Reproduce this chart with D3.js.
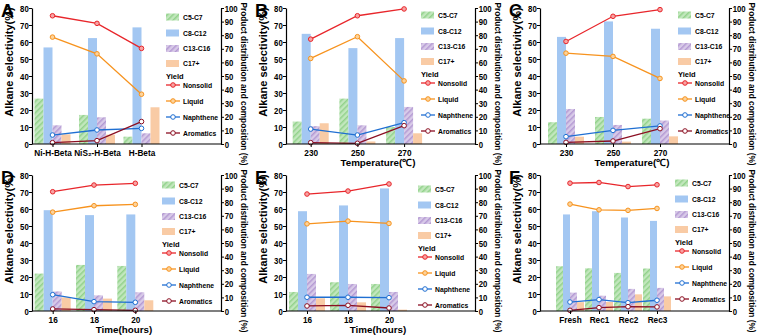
<!DOCTYPE html>
<html lang="en">
<head>
<meta charset="UTF-8">
<title>Alkane selectivity and product distribution</title>
<script src="https://d3js.org/d3.v7.min.js"></script>
<style>
  body { margin: 0; background: #fff; }
  text { font-family: "Liberation Sans", Arial, sans-serif; font-weight: bold; }
</style>
</head>
<body>
<div id="chart"></div>
<script>
// categories per panel (A..F)
const panelLetters = ["A", "B", "C", "D", "E", "F"];
const categories = [
  ["Ni-H-Beta", "NiS₂-H-Beta", "H-Beta"],
  ["230", "250", "270"],
  ["230", "250", "270"],
  ["16", "18", "20"],
  ["16", "18", "20"],
  ["Fresh", "Rec1", "Rec2", "Rec3"]
];
const xTitles = ["", "Temperature(℃)", "Temperature(℃)", "Time(hours)", "Time(hours)", ""];

// alkane selectivity (%) - bars, left axis
const c5c7   = [[26.7, 17.1, 4.3], [13.2, 26.7, 10.0], [12.8, 15.9, 14.9], [22.0, 27.1, 26.5], [11.2, 16.9, 15.9], [26.3, 25.1, 22.4, 25.0]];
const c8c12  = [[56.8, 62.3, 68.6], [64.8, 56.4, 62.3], [63.0, 72.1, 67.8], [59.3, 56.4, 56.8], [58.7, 62.1, 72.1], [56.8, 58.7, 55.0, 53.0]];
const c13c16 = [[11.0, 15.7, 6.3], [10.5, 11.0, 21.8], [20.6, 11.2, 13.8], [11.5, 9.2, 11.0], [21.8, 15.9, 11.2], [10.8, 9.0, 13.0, 13.6]];
const c17    = [[5.7, 5.5, 21.6], [12.2, 1.5, 6.3], [4.3, 1.4, 4.5], [8.0, 7.3, 6.3], [7.5, 5.1, 0.8], [5.2, 5.3, 9.8, 8.6]];

// yield / composition (%) - lines, right axis
const nonsolid  = [[94.3, 88.7, 70.3], [77.1, 94.3, 99.3], [75.4, 93.9, 98.8], [87.7, 92.6, 93.9], [86.0, 88.2, 93.4], [94.0, 94.5, 91.5, 92.8]];
const liquid    = [[78.6, 66.3, 36.6], [62.9, 78.9, 46.4], [66.8, 64.4, 48.2], [72.7, 77.4, 78.4], [64.1, 66.1, 64.4], [78.6, 74.4, 74.0, 75.4]];
const naphthene = [[6.6, 10.3, 11.5], [11.0, 6.6, 15.7], [5.4, 10.0, 13.3], [12.0, 6.9, 6.4], [10.1, 10.1, 9.8], [6.6, 8.4, 6.1, 7.9]];
const aromatics = [[1.0, 2.5, 16.5], [1.0, 0.5, 13.5], [1.2, 2.2, 11.3], [1.5, 1.0, 0.5], [3.7, 4.2, 2.2], [0.5, 2.5, 3.2, 3.0]];

const leftTicks  = [0, 10, 20, 30, 40, 50, 60, 70, 80];
const rightTicks = [0, 10, 20, 30, 40, 50, 60, 70, 80, 90, 100];

const barNames  = ["C5-C7", "C8-C12", "C13-C16", "C17+"];
const lineNames = ["Nonsolid", "Liquid", "Naphthene", "Aromatics"];

// layout (not data)
const W = 761, H = 336;
const origins = [[0, 0], [254, 0], [508, 0], [0, 167], [254, 167], [508, 167]];
const firstX  = [52.5, 56.7, 58, 52.7, 53, 62];
const stepX   = [44.5, 46.7, 47, 41.3, 41, 29];
const barW    = [9, 9, 9, 9, 9, 7];
const legX    = [166, 167, 170, 162, 164, 167];
const legY    = [17, 15, 15, 18, 22, 16];
const plotL = 32, plotR = 221, plotT = 8, plotB = 144;

const barFills = ["url(#hatchGreen)", "#a3c7f2", "url(#hatchPurple)", "#f9cba5"];
const lineColors = ["#e8262b", "#f7931e", "#1f6fd2", "#8b0f22"];
const markerFills = ["#f7a3a3", "#fcd39c", "#ffffff", "#ffffff"];

const svg = d3.select("#chart").append("svg")
  .attr("width", W).attr("height", H);
svg.append("rect").attr("width", W).attr("height", H).attr("fill", "#fff");

const defs = svg.append("defs");
function hatch(id, base, stripe) {
  const p = defs.append("pattern").attr("id", id)
    .attr("patternUnits", "userSpaceOnUse")
    .attr("width", 4).attr("height", 4)
    .attr("patternTransform", "rotate(45)");
  p.append("rect").attr("width", 4).attr("height", 4).attr("fill", base);
  p.append("rect").attr("width", 1.5).attr("height", 4).attr("fill", stripe);
}
hatch("hatchGreen", "#c2e7bd", "#93d28c");
hatch("hatchPurple", "#d8cae8", "#b49ad3");

const barSeries = [c5c7, c8c12, c13c16, c17];
const lineSeries = [nonsolid, liquid, naphthene, aromatics];

panelLetters.forEach((letter, i) => {
  const [ox, oy] = origins[i];
  const g = svg.append("g").attr("transform", `translate(${ox},${oy})`);
  const cats = categories[i];

  const x = d3.scalePoint().domain(cats)
    .range([firstX[i], firstX[i] + stepX[i] * (cats.length - 1)]);
  const yL = d3.scaleLinear().domain([0, 80]).range([plotB, plotT]);
  const yR = d3.scaleLinear().domain([0, 100]).range([plotB, plotT]);
  const bw = barW[i];

  // bars
  barSeries.forEach((series, s) => {
    g.selectAll(null).data(series[i]).enter().append("rect")
      .attr("x", (d, k) => x(cats[k]) + (s - 2) * bw)
      .attr("y", d => yL(d))
      .attr("width", bw)
      .attr("height", d => plotB - yL(d))
      .attr("fill", barFills[s]);
  });

  // lines
  lineSeries.forEach((series, s) => {
    const pts = series[i].map((v, k) => [cats[k], v]);
    g.append("path").datum(pts)
      .attr("fill", "none")
      .attr("stroke", lineColors[s])
      .attr("stroke-width", 1.3)
      .attr("d", d3.line().x(d => x(d[0])).y(d => yR(d[1])));
    g.selectAll(null).data(pts).enter().append("circle")
      .attr("cx", d => x(d[0])).attr("cy", d => yR(d[1]))
      .attr("r", 2.3)
      .attr("fill", markerFills[s])
      .attr("stroke", lineColors[s]).attr("stroke-width", 1);
  });

  // axes
  const axL = g.append("g").attr("transform", `translate(${plotL},0)`)
    .call(d3.axisLeft(yL).tickValues(leftTicks).tickSize(3).tickSizeOuter(0));
  const axR = g.append("g").attr("transform", `translate(${plotR},0)`)
    .call(d3.axisRight(yR).tickValues(rightTicks).tickSize(3).tickSizeOuter(0));
  const axB = g.append("g").attr("transform", `translate(0,${plotB})`)
    .call(d3.axisBottom(x).tickSize(3).tickSizeOuter(0));
  axB.select(".domain").remove();
  g.append("line").attr("x1", plotL).attr("x2", plotR)
    .attr("y1", plotB).attr("y2", plotB)
    .attr("stroke", "#000").attr("stroke-width", 1.2);

  [axL, axR].forEach(a => {
    a.select(".domain").attr("stroke-width", 1.2);
    a.selectAll("text").style("font-size", "9.5px").attr("fill", "#000");
  });
  // glyphs in the figure are a bit narrow
  axL.selectAll(".tick text").attr("x", -4).attr("transform", "scale(0.82,1)");
  axR.selectAll(".tick text").attr("x", 4.5).attr("transform", "scale(0.82,1)");
  axB.selectAll("text").style("font-size", "9.8px").attr("fill", "#000").attr("y", 5)
    .attr("transform", "scale(0.84,1)");

  // axis titles
  g.append("text")
    .attr("transform", `translate(9,62) rotate(-90)`)
    .attr("text-anchor", "middle").attr("dominant-baseline", "central")
    .style("font-size", "11px")
    .text("Alkane selectivity(%)");
  g.append("text")
    .attr("transform", `translate(244,84) rotate(90)`)
    .attr("text-anchor", "middle").attr("dominant-baseline", "central")
    .style("font-size", "8.3px")
    .text("Product distribution and composition (%)");
  if (xTitles[i]) {
    g.append("text")
      .attr("x", 124).attr("y", 166)
      .attr("text-anchor", "middle")
      .style("font-size", "9.8px")
      .text(xTitles[i]);
  }

  // panel letter
  g.append("text").attr("x", 1).attr("y", 17)
    .style("font-size", "18px").text(letter);

  // legend
  const lx = legX[i], ly = legY[i];
  const barOff = [0, 16, 31.5, 46.5];
  const lineOff = [68, 84, 100, 116];
  barNames.forEach((name, s) => {
    g.append("rect").attr("x", lx).attr("y", ly + barOff[s] - 3.5)
      .attr("width", 13).attr("height", 7).attr("fill", barFills[s]);
    g.append("text").attr("x", lx + 17).attr("y", ly + barOff[s])
      .attr("dominant-baseline", "central")
      .style("font-size", "6.8px").text(name);
  });
  g.append("text").attr("x", lx).attr("y", ly + 59)
    .attr("dominant-baseline", "central")
    .style("font-size", "7.5px").text("Yield");
  lineNames.forEach((name, s) => {
    const yy = ly + lineOff[s];
    g.append("line").attr("x1", lx).attr("x2", lx + 14)
      .attr("y1", yy).attr("y2", yy)
      .attr("stroke", lineColors[s]).attr("stroke-width", 1.3);
    g.append("circle").attr("cx", lx + 7).attr("cy", yy).attr("r", 2.3)
      .attr("fill", markerFills[s]).attr("stroke", lineColors[s]).attr("stroke-width", 1);
    g.append("text").attr("x", lx + 17).attr("y", yy)
      .attr("dominant-baseline", "central")
      .style("font-size", "6.8px").text(name);
  });
});
</script>
</body>
</html>
